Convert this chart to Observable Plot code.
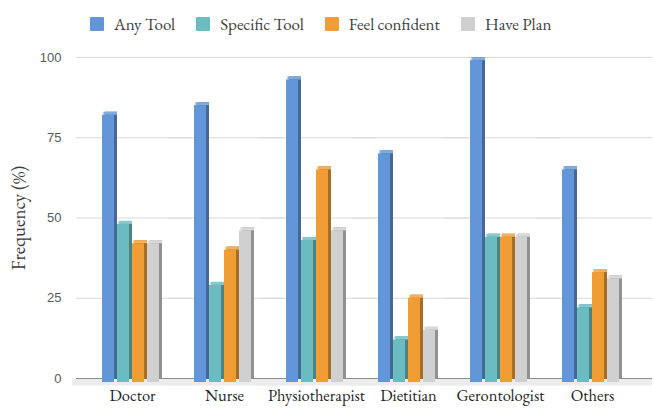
<!DOCTYPE html>
<html><head><meta charset="utf-8">
<script src="https://cdn.jsdelivr.net/npm/d3@7"></script>
<script src="https://cdn.jsdelivr.net/npm/@observablehq/plot@0.6"></script>
<style>
body{margin:0;background:#fff;width:654px;height:409px;overflow:hidden;position:relative;}
#legend{height:45px;position:relative;display:flex;align-items:center;padding-left:90px;box-sizing:border-box;padding-top:3px;}
.item{display:flex;align-items:center;font-size:17px;color:#404040;margin-right:21px;white-space:nowrap;}
.sw{width:14px;height:14px;margin-right:10px;border-radius:1px;}
#ytitle{position:absolute;left:18px;top:218px;transform:translate(-50%,-50%) rotate(-90deg);font-size:19px;color:#404040;white-space:nowrap;}
</style></head>
<body>
<div id="legend"></div>
<div id="chart"></div>
<div id="ytitle">Frequency (%)</div>
<script>
const categories = ["Doctor","Nurse","Physiotherapist","Dietitian","Gerontologist","Others"];
const series = ["Any Tool","Specific Tool","Feel confident","Have Plan"];
const anyTool = [82,85,93,70,99,65];
const specificTool = [48,29,43,12,44,22];
const feelConfident = [42,40,65,25,44,33];
const havePlan = [42,46,46,15,44,31];
const yTicks = [0,25,50,75,100];
const colors = ["#6396d8","#6bbcc1","#f09d36","#d0d0d0"];

const SERIF = '"EB Garamond", "Liberation Serif", serif';
const SANS = '"Liberation Sans", Arial, sans-serif';

const values = [anyTool, specificTool, feelConfident, havePlan];
const data = categories.flatMap((c, i) => series.map((s, j) => ({category: c, series: s, value: values[j][i]})));

document.body.style.fontFamily = SERIF;
document.getElementById("ytitle").style.fontFamily = SERIF;
const legend = document.getElementById("legend");
series.forEach((s, j) => {
  const it = document.createElement("div");
  it.className = "item";
  it.style.fontFamily = SERIF;
  const sw = document.createElement("span");
  sw.className = "sw";
  sw.style.background = colors[j];
  const tx = document.createElement("span");
  tx.textContent = s;
  it.appendChild(sw); it.appendChild(tx);
  legend.appendChild(it);
});

const common = {fx: "category", x: "series"};
const chart = Plot.plot({
  width: 654, height: 364,
  marginLeft: 83, marginRight: 13.5, marginTop: 12, marginBottom: 31,
  style: {fontSize: "17px", background: "#fff", overflow: "visible"},
  fx: {domain: categories, padding: 0, axis: "bottom", tickSize: 0, tickPadding: 11, label: null},
  x: {domain: series, paddingInner: 0, paddingOuter: 0.98, axis: null},
  y: {domain: [0, 100], ticks: yTicks, tickSize: 0, tickPadding: 25, label: null, tickFormat: d => d},
  color: {domain: series, range: colors},
  marks: [
    Plot.ruleY([0], {stroke: "#ececec", strokeWidth: 7, dy: 3.5, insetLeft: -14, insetRight: -14}),
    Plot.ruleY(yTicks.filter(d => d > 0), {stroke: "#d9d9d9", strokeWidth: 1.2, insetLeft: -10, insetRight: -14}),
    Plot.ruleY([0], {stroke: "#8c8c8c", strokeWidth: 1.2, insetLeft: -10, insetRight: -14}),
    Plot.barY(data, {...common, y: "value", fill: "series", insetLeft: 3, insetBottom: -4, dy: -3}),
    Plot.barY(data, {...common, y: "value", fill: "#000", fillOpacity: 0.3, insetLeft: 3, insetBottom: -4, dy: -3}),
    Plot.barY(data, {...common, y1: "value", y2: "value", fill: "series", insetTop: -3, insetLeft: 1.5}),
    Plot.barY(data, {...common, y1: "value", y2: "value", fill: "#fff", fillOpacity: 0.2, insetTop: -3, insetLeft: 1.5}),
    Plot.barY(data, {...common, y: "value", fill: "series", insetRight: 3, insetBottom: -4})
  ]
});
chart.style.fontFamily = SERIF;
chart.querySelectorAll('g[aria-label^="y-axis"] text').forEach(t => {
  t.style.fontFamily = SANS; t.style.fontSize = "13px"; t.style.fill = "#595959";
});
chart.querySelectorAll('g[aria-label^="fx-axis"] text').forEach(t => {
  t.style.fontFamily = SERIF; t.style.fontSize = "16.5px"; t.style.fill = "#262626";
});
document.getElementById("chart").appendChild(chart);
</script>
</body></html>
